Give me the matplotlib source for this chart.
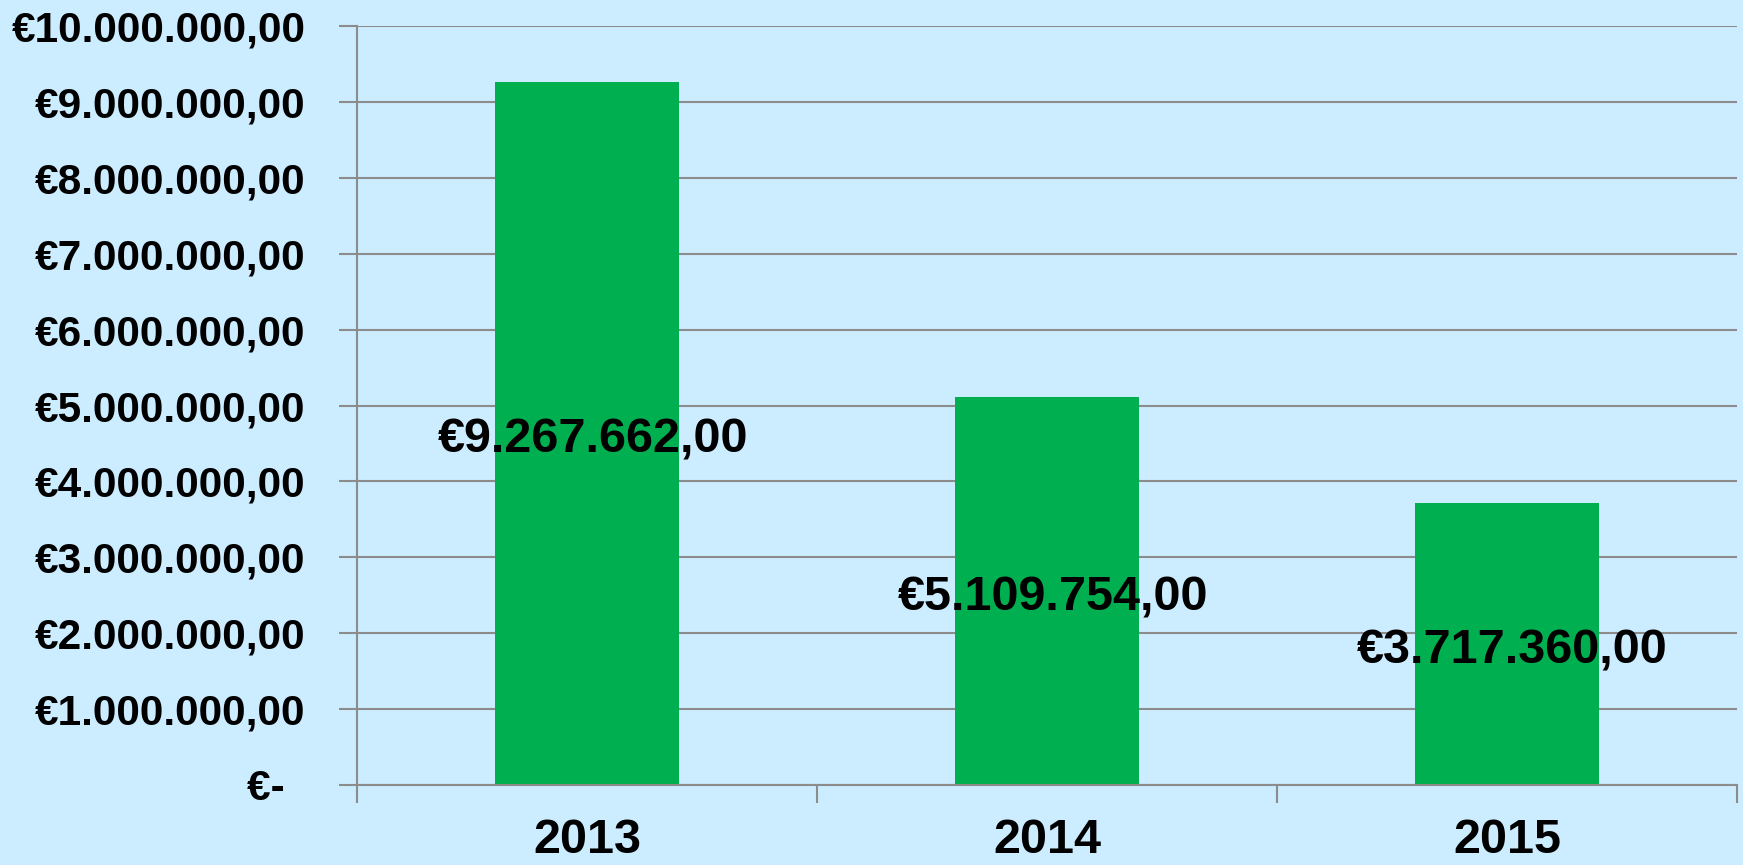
import numpy as np
import matplotlib.pyplot as plt

# chart data
years = ['2013', '2014', '2015']
values = [9267662.00, 5109754.00, 3717360.00]
value_labels = ['€9.267.662,00', '€5.109.754,00', '€3.717.360,00']
y_ticks = [0, 1e6, 2e6, 3e6, 4e6, 5e6, 6e6, 7e6, 8e6, 9e6, 10e6]
y_tick_labels = ['€-\u2002', '€1.000.000,00', '€2.000.000,00', '€3.000.000,00',
                 '€4.000.000,00', '€5.000.000,00', '€6.000.000,00',
                 '€7.000.000,00', '€8.000.000,00', '€9.000.000,00',
                 '€10.000.000,00']

plt.rcParams['font.family'] = ['Liberation Sans', 'DejaVu Sans']
plt.rcParams['font.weight'] = 'bold'

bg = '#CCECFF'
grid_col = '#8C8C8C'

fig = plt.figure(figsize=(17.43, 8.65), dpi=100, facecolor=bg)
ax = fig.add_axes([357 / 1743, 1 - 785 / 865, 1380 / 1743, 759 / 865])
ax.set_facecolor(bg)

x = np.arange(len(years))
ax.bar(x, values, width=0.4, color='#00B050', zorder=3)

# value labels in the middle of each bar
for xi, v, lab in zip(x, values, value_labels):
    ax.annotate(lab, (xi, v / 2), xytext=(4, -5), textcoords='offset points',
                ha='center', va='center', fontsize=35, fontweight='bold',
                color='black', zorder=4)

ax.set_xlim(-0.5, 2.5)
ax.set_ylim(0, 10e6)

ax.set_yticks(y_ticks)
ax.set_yticklabels(y_tick_labels, fontsize=30.5, fontweight='bold')
ax.yaxis.grid(True, color=grid_col, linewidth=1.5, zorder=0)

# category boundaries as major ticks, year labels on minor ticks
ax.set_xticks([-0.5, 0.5, 1.5, 2.5])
ax.set_xticklabels([])
ax.set_xticks(x, minor=True)
ax.set_xticklabels(years, minor=True, fontsize=35, fontweight='bold')
ax.tick_params(axis='x', which='major', length=13, width=1.5, color=grid_col, direction='out')
ax.tick_params(axis='x', which='minor', length=0, pad=24)
ax.tick_params(axis='y', length=13, width=1.5, color=grid_col, pad=24)

for side in ['top', 'right']:
    ax.spines[side].set_visible(False)
for side in ['left', 'bottom']:
    ax.spines[side].set_color(grid_col)
    ax.spines[side].set_linewidth(1.5)
    ax.spines[side].set_zorder(5)

fig.savefig('out.png', dpi=100, facecolor=bg)
